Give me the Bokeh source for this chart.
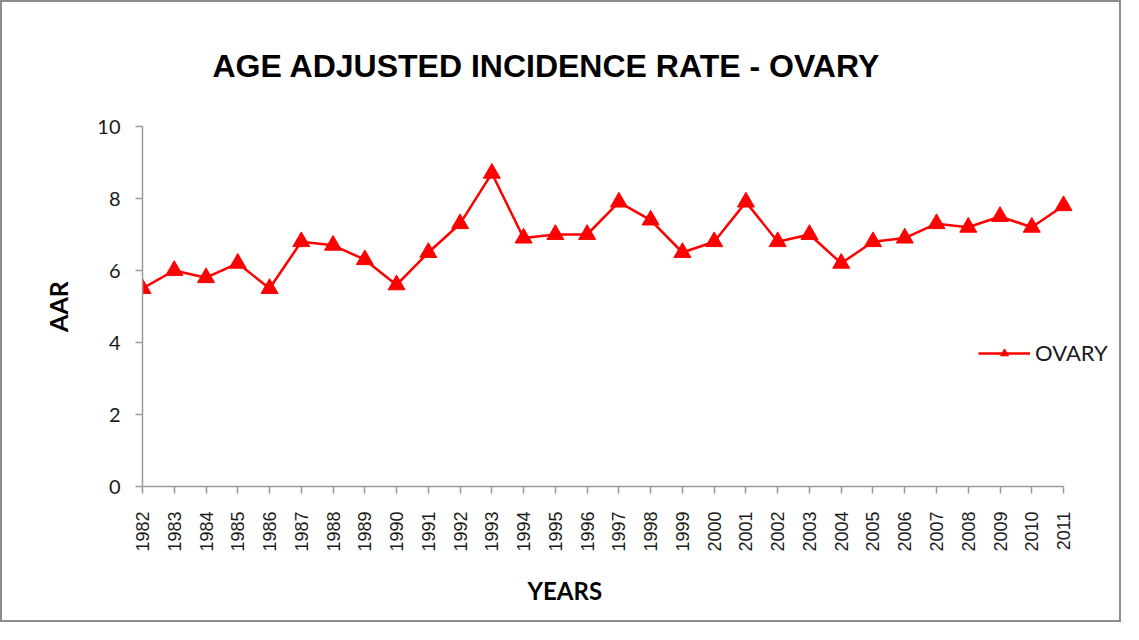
from math import pi
from bokeh.plotting import figure
from bokeh.models import Range1d, FixedTicker, Legend, LegendItem, Title
from bokeh.embed import file_html
from bokeh.resources import INLINE

years = list(range(1982, 2012))
aar = [5.5, 6.0, 5.8, 6.2, 5.5, 6.8, 6.7, 6.3, 5.6, 6.5, 7.3, 8.7, 6.9, 7.0, 7.0,
       7.9, 7.4, 6.5, 6.8, 7.9, 6.8, 7.0, 6.2, 6.8, 6.9, 7.3, 7.2, 7.5, 7.2, 7.8]
y_ticks = [0, 2, 4, 6, 8, 10]
title_text = "AGE ADJUSTED INCIDENCE RATE - OVARY"
x_title = "YEARS"
y_title = "AAR"
series_name = "OVARY"

ARIAL = "Liberation Sans"
CALIBRI = "Lato"

# layout: frame spans past the last year so the legend is not clipped
W, H = 1121, 622
LEFT, RIGHT, TOP = 140, 2, 123
FRAME_H = 361
BOTTOM = H - TOP - FRAME_H
PX_PER_YEAR = 31.76
x0 = years[0]
x1 = x0 + (W - LEFT - RIGHT) / PX_PER_YEAR

p = figure(width=W, height=H, output_backend="svg", toolbar_location=None,
           x_range=Range1d(x0, x1), y_range=Range1d(0, 10),
           min_border_left=LEFT, min_border_right=RIGHT, min_border_top=TOP,
           min_border_bottom=BOTTOM)
p.styles = {"border": "2px solid #8c8c8c"}
p.outline_line_color = None
p.xgrid.visible = False
p.ygrid.visible = False

t = Title(text=title_text, text_font=ARIAL, text_font_size="32px",
          text_font_style="bold", text_color="black", align="left",
          offset=70, standoff=86)
p.add_layout(t, "above")

line = p.line(years, aar, line_color="#ff0000", line_width=2.5)
pts = p.scatter(years, aar, marker="triangle", size=17, fill_color="#ff0000",
                line_color="#ff0000")

for ax in (p.xaxis[0], p.yaxis[0]):
    ax.axis_line_color = "#9a9a9a"
    ax.axis_line_width = 1.5
    ax.major_tick_line_color = "#9a9a9a"
    ax.major_tick_line_width = 1.5
    ax.major_tick_out = 7
    ax.major_tick_in = 0
    ax.minor_tick_line_color = None
    ax.major_label_text_color = "#1a1a1a"
    ax.axis_label_text_font = CALIBRI
    ax.axis_label_text_font_style = "bold"
    ax.axis_label_text_color = "black"

xa = p.xaxis[0]
xa.ticker = FixedTicker(ticks=years)
xa.bounds = (years[0], years[-1])
xa.major_label_orientation = pi / 2
xa.major_label_text_font = ARIAL
xa.major_label_text_font_size = "18px"
xa.major_label_standoff = 18

# x-axis title sits left of the frame centre, as in the original
xt = Title(text=x_title, text_font=CALIBRI, text_font_size="24px",
           text_font_style="bold", text_color="black", align="left",
           offset=385, standoff=38)
p.add_layout(xt, "below")

ya = p.yaxis[0]
ya.ticker = FixedTicker(ticks=y_ticks)
ya.major_label_text_font = CALIBRI
ya.major_label_text_font_size = "20px"
ya.major_label_standoff = 15
ya.axis_label = y_title
ya.axis_label_text_font_size = "25px"
ya.axis_label_standoff = 21

legend = Legend(items=[LegendItem(label=series_name, renderers=[line, pts])],
                location=(836, 120), glyph_width=52, glyph_height=20,
                label_standoff=5, padding=0, margin=0,
                border_line_color=None, background_fill_alpha=0,
                label_text_font=CALIBRI, label_text_font_size="22px",
                label_text_color="#1a1a1a")
p.add_layout(legend, "center")

open("out.html", "w").write(file_html(p, INLINE))
